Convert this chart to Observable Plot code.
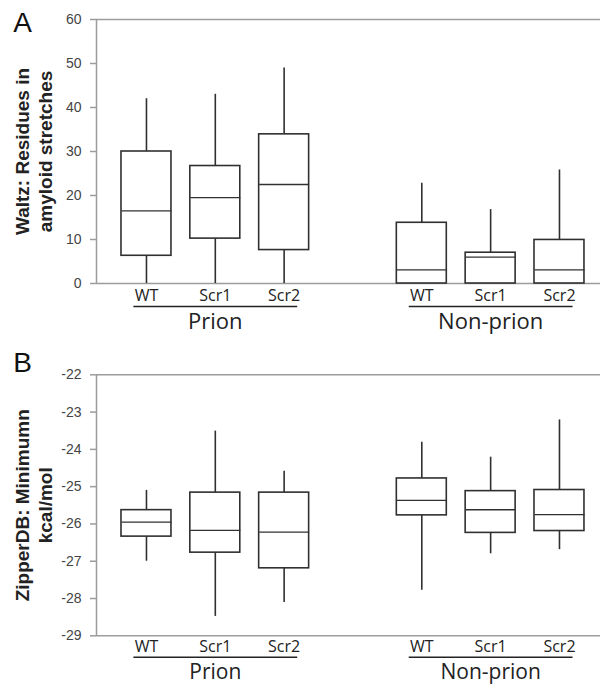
<!DOCTYPE html>
<html><head><meta charset="utf-8">
<script src="https://cdn.jsdelivr.net/npm/d3@7"></script>
<script src="https://cdn.jsdelivr.net/npm/@observablehq/plot@0.6"></script>
<style>
body{margin:0;background:#fff;}
#chart svg{display:block;}
</style>
</head><body><div id="chart"></div>
<script>
// ---- data ----
const categories = ["WT", "Scr1", "Scr2", "WT", "Scr1", "Scr2"];
const groups = ["Prion", "Prion", "Prion", "Non-prion", "Non-prion", "Non-prion"];
const positions = [0, 1, 2, 4, 5, 6];

// Panel A: Waltz residues in amyloid stretches
const waltzMin = [0, 0, 0, 0, 0, 0];
const waltzQ1  = [6.3, 10.2, 7.6, 0, 0, 0];
const waltzMed = [16.5, 19.5, 22.5, 3.1, 6.0, 3.1];
const waltzQ3  = [30.0, 26.7, 33.9, 13.8, 7.0, 9.9];
const waltzMax = [42, 43, 49, 22.8, 16.8, 25.8];
const waltzTicks = [0, 10, 20, 30, 40, 50, 60];

// Panel B: ZipperDB minimum kcal/mol
const zipMin = [-27.0, -28.48, -28.11, -27.78, -26.80, -26.69];
const zipQ1  = [-26.34, -26.77, -27.19, -25.77, -26.24, -26.19];
const zipMed = [-25.95, -26.17, -26.22, -25.37, -25.62, -25.75];
const zipQ3  = [-25.63, -25.16, -25.16, -24.78, -25.12, -25.09];
const zipMax = [-25.1, -23.51, -24.59, -23.81, -24.21, -23.21];
const zipTicks = [-22, -23, -24, -25, -26, -27, -28, -29];

const titleA = ["Waltz: Residues in", "amyloid stretches"];
const titleB = ["ZipperDB: Minimumn", "kcal/mol"];

// ---- drawing ----
const xDomain = [-0.726, 6.596];
const hw = 0.363;   // half box width in x units
const ext = 0.19;   // underline overhang
const axisGray = "#9c9c9c";
const ink = "#303030";
const humanist = "Open Sans, Noto Sans, sans-serif";
const arial = "Liberation Sans, Arial, sans-serif";

function groupRows() {
  const names = [...new Set(groups)];
  return names.map(n => {
    const ps = positions.filter((p, i) => groups[i] === n);
    return {name: n, lo: d3.min(ps), hi: d3.max(ps)};
  });
}

function panel({letter, mins, q1s, meds, q3s, maxs, ticks, title, height, marginTop, marginBottom, letterDy, catDy, lineDy, groupDy, groupSize}) {
  const rows = positions.map((p, i) => ({pos: p, cat: categories[i], min: mins[i], q1: q1s[i], med: meds[i], q3: q3s[i], max: maxs[i]}));
  const yDomain = d3.extent(ticks);
  const gr = groupRows();
  return Plot.plot({
    width: 600, height, marginLeft: 96, marginRight: 0, marginTop, marginBottom,
    style: {fontFamily: arial, background: "white", overflow: "visible"},
    x: {domain: xDomain, axis: null},
    y: {domain: yDomain, axis: null},
    marks: [
      Plot.ruleY(yDomain, {stroke: axisGray, strokeWidth: 1.5}),
      Plot.ruleX([xDomain[0]], {stroke: axisGray, strokeWidth: 1.5}),
      Plot.axisY({ticks, tickFormat: d => String(d), tickSize: 6, tickPadding: 9, stroke: axisGray, strokeWidth: 1.5, fill: "#444", fontSize: 14, label: null}),
      Plot.ruleX(rows, {x: "pos", y1: "min", y2: "q1", stroke: ink, strokeWidth: 1.6}),
      Plot.ruleX(rows, {x: "pos", y1: "q3", y2: "max", stroke: ink, strokeWidth: 1.6}),
      Plot.rect(rows, {x1: d => d.pos - hw, x2: d => d.pos + hw, y1: "q1", y2: "q3", fill: "white", stroke: ink, strokeWidth: 1.6}),
      Plot.link(rows, {x1: d => d.pos - hw, x2: d => d.pos + hw, y1: "med", y2: "med", stroke: ink, strokeWidth: 1.3}),
      Plot.text(rows, {x: "pos", text: "cat", frameAnchor: "bottom", lineAnchor: "top", dy: catDy, fontFamily: humanist, fontSize: 16, fill: "#222"}),
      Plot.link(gr, {x1: d => d.lo - ext, x2: d => d.hi + ext, y1: () => yDomain[0], y2: () => yDomain[0], dy: lineDy, stroke: "#222", strokeWidth: 1.6}),
      Plot.text(gr, {x: d => (d.lo + d.hi) / 2, text: "name", frameAnchor: "bottom", lineAnchor: "top", dy: groupDy, fontFamily: humanist, fontSize: groupSize, fill: "#222"}),
      Plot.text([title.join("\n")], {frameAnchor: "left", textAnchor: "middle", lineAnchor: "middle", rotate: -90, dx: -63, text: d => d, fontWeight: "bold", fontSize: 19, lineHeight: 1.18, fill: "#222"}),
      Plot.text([letter], {frameAnchor: "top-left", textAnchor: "middle", dx: -74, dy: letterDy, text: d => d, fontSize: 28, lineAnchor: "middle", fill: "#111"})
    ]
  });
}

const chart = document.getElementById("chart");
chart.append(panel({letter: "A", mins: waltzMin, q1s: waltzQ1, meds: waltzMed, q3s: waltzQ3, maxs: waltzMax, ticks: waltzTicks, title: titleA, height: 338, marginTop: 19, marginBottom: 55, letterDy: 4, catDy: 6.5, lineDy: 23, groupDy: 30, groupSize: 22}));
chart.append(panel({letter: "B", mins: zipMin, q1s: zipQ1, meds: zipMed, q3s: zipQ3, maxs: zipMax, ticks: zipTicks, title: titleB, height: 347, marginTop: 36.3, marginBottom: 49.7, letterDy: -12, catDy: 4.5, lineDy: 21.5, groupDy: 28, groupSize: 21}));
</script>
</body></html>
